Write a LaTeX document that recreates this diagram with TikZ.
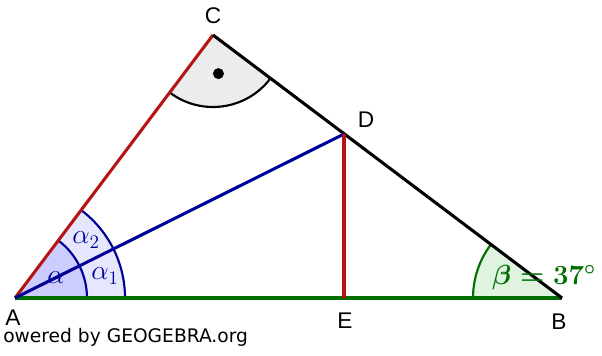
\documentclass[tikz,border=0pt]{standalone}
\usepackage{fontspec}
\setmainfont{Liberation Sans}
\newfontfamily\ggfont{DejaVu Sans}
\definecolor{redline}{RGB}{180,20,20}
\definecolor{greenline}{RGB}{0,110,0}
\definecolor{blueline}{RGB}{0,0,150}
\definecolor{alphafill}{RGB}{204,204,255}
\definecolor{alphaonefill}{RGB}{230,230,255}
\definecolor{betafill}{RGB}{224,242,224}
\definecolor{cfill}{RGB}{236,236,236}
\tikzset{
  seg/.style={line width=2.3pt},
  anglearc/.style={line width=1.6pt},
  ptlabel/.style={font=\fontsize{17}{20}\selectfont, inner sep=0pt},
  mathlabel/.style={font=\fontsize{21}{25}\selectfont, inner sep=0pt, text=blueline},
  boldmathlabel/.style={font=\fontsize{19.5}{23}\selectfont\boldmath, inner sep=0pt, text=greenline},
}
\begin{document}
\begin{tikzpicture}[x=0.75pt,y=0.75pt]
\useasboundingbox (0,0) rectangle (602,356);
\coordinate (A) at (15,58);
\coordinate (B) at (562,58);
\coordinate (C) at (213,321);
\coordinate (D) at (344,222);
\coordinate (E) at (344,58);
% angle fills
\fill[alphaonefill] (A) -- ++(0:110) arc[start angle=0,end angle=53,radius=110] -- cycle;
\fill[alphafill] (A) -- ++(0:72) arc[start angle=0,end angle=53,radius=72] -- cycle;
\fill[betafill] (B) -- ++(143:89) arc[start angle=143,end angle=180,radius=89] -- cycle;
\fill[cfill] (C) -- ++(233:72) arc[start angle=233,end angle=323,radius=72] -- cycle;
% angle arcs
\draw[anglearc,blueline] ([shift={(0:110)}]A) arc[start angle=0,end angle=53,radius=110];
\draw[anglearc,blueline] ([shift={(0:72)}]A) arc[start angle=0,end angle=53,radius=72];
\draw[anglearc,greenline] ([shift={(143:89)}]B) arc[start angle=143,end angle=180,radius=89];
\draw[anglearc,black] ([shift={(233:72)}]C) arc[start angle=233,end angle=323,radius=72];
\fill[black] ([shift={(278:39)}]C) circle[radius=5.5];
% segments
\draw[seg,greenline] (A) -- (B);
\draw[seg,redline] (A) -- (C);
\draw[seg,black] (C) -- (B);
\draw[seg,blueline] (A) -- (D);
\draw[seg,redline] (D) -- (E);
% labels
\node[ptlabel] (lC) at (213,340.5) {C};
\node[ptlabel] (lD) at (366,236) {D};
\node[ptlabel] (lE) at (345,35.5) {E};
\node[ptlabel] (lB) at (559,34.5) {B};
\node[ptlabel] (lA) at (13,38) {A};
\node[mathlabel] (la) at (56,78) {$\alpha$};
\node[mathlabel] (laone) at (105,80) {$\alpha_1$};
\node[mathlabel] (latwo) at (86,116) {$\alpha_2$};
\node[boldmathlabel] (lbeta) at (544,78) {$\beta=37^{\circ}$};
\node[anchor=west,inner sep=0pt,font=\ggfont\fontsize{14}{16}\selectfont] (gg) at (3,18.5) {owered by GEOGEBRA.org};
\end{tikzpicture}
\end{document}
